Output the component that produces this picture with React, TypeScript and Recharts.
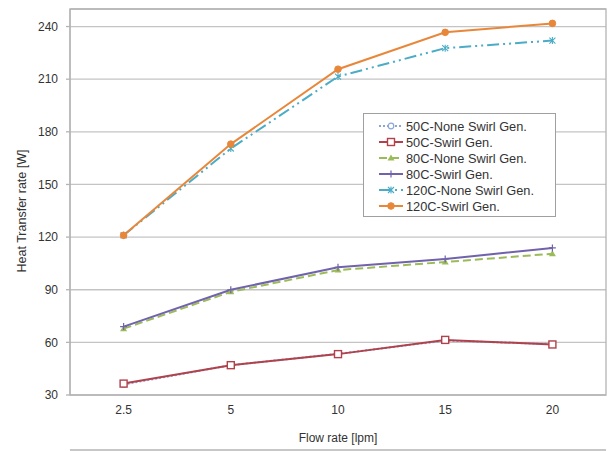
import React from "react";
import {
  LineChart,
  Line,
  XAxis,
  YAxis,
  CartesianGrid,
  Legend,
  ReferenceArea,
} from "recharts";

// flow rates [lpm]
const flowRates = ["2.5", "5", "10", "15", "20"];

// heat transfer rate [W]
const none50 = [36, 47, 53.5, 61, 59];
const swirl50 = [36.5, 47, 53.3, 61.4, 58.8];
const none80 = [67.8, 88.8, 101.2, 105.8, 110.5];
const swirl80 = [69, 90, 102.8, 107.5, 113.8];
const none120 = [121, 170.5, 211.5, 227.7, 232];
const swirl120 = [121, 173, 215.7, 236.7, 241.8];

const yTicks = [30, 60, 90, 120, 150, 180, 210, 240];

const FONT = "'Liberation Sans', Arial, sans-serif";

const series = [
  { key: "none50", name: "50C-None Swirl Gen.", color: "#8aa6d8", dash: "2 2", marker: "circle" },
  { key: "swirl50", name: "50C-Swirl Gen.", color: "#b0424c", dash: undefined, marker: "square" },
  { key: "none80", name: "80C-None Swirl Gen.", color: "#9bbb59", dash: "8 4", marker: "triangle" },
  { key: "swirl80", name: "80C-Swirl Gen.", color: "#7162ac", dash: undefined, marker: "plus" },
  { key: "none120", name: "120C-None Swirl Gen.", color: "#4bacc6", dash: "12 4 2 4 2 4", marker: "star" },
  { key: "swirl120", name: "120C-Swirl Gen.", color: "#e8873a", dash: undefined, marker: "dot" },
];

const data = flowRates.map((label, i) => ({
  idx: i,
  label,
  none50: none50[i],
  swirl50: swirl50[i],
  none80: none80[i],
  swirl80: swirl80[i],
  none120: none120[i],
  swirl120: swirl120[i],
}));

function Marker({ cx, cy, kind, color }: { cx: number; cy: number; kind: string; color: string }) {
  if (cx == null || cy == null) return null;
  switch (kind) {
    case "circle":
      return <circle cx={cx} cy={cy} r={2.8} fill="#fff" stroke={color} strokeWidth={1.2} />;
    case "square":
      return <rect x={cx - 3.5} y={cy - 3.5} width={7} height={7} fill="#fff" stroke={color} strokeWidth={1.4} />;
    case "triangle":
      return <path d={`M${cx},${cy - 3.5}L${cx + 3.5},${cy + 2.5}L${cx - 3.5},${cy + 2.5}Z`} fill={color} />;
    case "plus":
      return (
        <path
          d={`M${cx - 3.5},${cy}H${cx + 3.5}M${cx},${cy - 3.5}V${cy + 3.5}`}
          stroke={color}
          strokeWidth={1.2}
        />
      );
    case "star":
      return (
        <path
          d={`M${cx - 3},${cy - 3}L${cx + 3},${cy + 3}M${cx - 3},${cy + 3}L${cx + 3},${cy - 3}M${cx},${cy - 3.5}V${cy + 3.5}`}
          stroke={color}
          strokeWidth={1.1}
        />
      );
    default:
      return <circle cx={cx} cy={cy} r={3.3} fill={color} stroke={color} />;
  }
}

function LegendBox() {
  return (
    <div
      style={{
        border: "1px solid #a0a0a0",
        background: "#fff",
        padding: "4px 0 2px 14px",
        fontFamily: FONT,
        fontSize: 12.8,
        color: "#333",
        boxSizing: "border-box",
      }}
    >
      {series.map((s) => (
        <div key={s.key} style={{ display: "flex", alignItems: "center", height: 16 }}>
          <svg width={26} height={12} style={{ marginRight: 2 }}>
            <line x1={1} y1={6} x2={25} y2={6} stroke={s.color} strokeWidth={2} strokeDasharray={s.dash} />
            <Marker cx={13} cy={6} kind={s.marker} color={s.color} />
          </svg>
          <span>{s.name}</span>
        </div>
      ))}
    </div>
  );
}

export default function App() {
  return (
    <div style={{ position: "absolute", left: 0, top: 0, background: "#fff" }}>
      <LineChart
        width={611}
        height={451}
        data={data}
        margin={{ top: 9, right: 5, bottom: 0, left: 0 }}
        style={{ fontFamily: FONT }}
      >
        <CartesianGrid vertical={false} stroke="#c4c4c4" strokeWidth={1.3} />
        <ReferenceArea
          xAxisId="marks"
          x1={-0.5}
          x2={4.5}
          y1={30}
          y2={250}
          fill="none"
          stroke="#b4b4b4"
          strokeWidth={1.3}
          ifOverflow="visible"
        />
        <XAxis
          xAxisId="marks"
          dataKey="idx"
          type="number"
          domain={[-0.5, 4.5]}
          ticks={[-0.5, 0.5, 1.5, 2.5, 3.5, 4.5]}
          tick={false}
          tickSize={5}
          height={1}
          stroke="#b4b4b4"
          strokeWidth={1.3}
        />
        <XAxis
          xAxisId="labels"
          dataKey="idx"
          type="number"
          domain={[-0.5, 4.5]}
          ticks={[0, 1, 2, 3, 4]}
          tickFormatter={(v) => flowRates[v]}
          axisLine={false}
          tickLine={false}
          tickSize={0}
          tickMargin={10}
          height={55}
          tick={{ fill: "#333", fontSize: 12 }}
          label={{
            value: "Flow rate [lpm]",
            position: "insideBottom",
            offset: 8,
            fill: "#333",
            fontSize: 12,
          }}
        />
        <YAxis
          type="number"
          domain={[30, 250]}
          ticks={yTicks}
          width={70}
          tickSize={4}
          tickMargin={8}
          stroke="#b4b4b4"
          strokeWidth={1.3}
          tick={{ fill: "#333", fontSize: 12 }}
          label={{
            value: "Heat Transfer rate [W]",
            angle: -90,
            position: "insideLeft",
            offset: 22,
            dy: 9,
            fill: "#333",
            fontSize: 12.5,
            style: { textAnchor: "middle" },
          }}
        />
        {series.map((s) => (
          <Line
            key={s.key}
            xAxisId="marks"
            dataKey={s.key}
            name={s.name}
            stroke={s.color}
            strokeWidth={2}
            strokeDasharray={s.dash}
            isAnimationActive={false}
            dot={(p: any) => <Marker key={`${s.key}-${p.index}`} cx={p.cx} cy={p.cy} kind={s.marker} color={s.color} />}
            activeDot={false}
          />
        ))}
        <Legend
          layout="horizontal"
          verticalAlign="middle"
          align="center"
          content={() => <LegendBox />}
          wrapperStyle={{ left: 363, top: 113, width: 193, height: 103 }}
        />
      </LineChart>
    </div>
  );
}
